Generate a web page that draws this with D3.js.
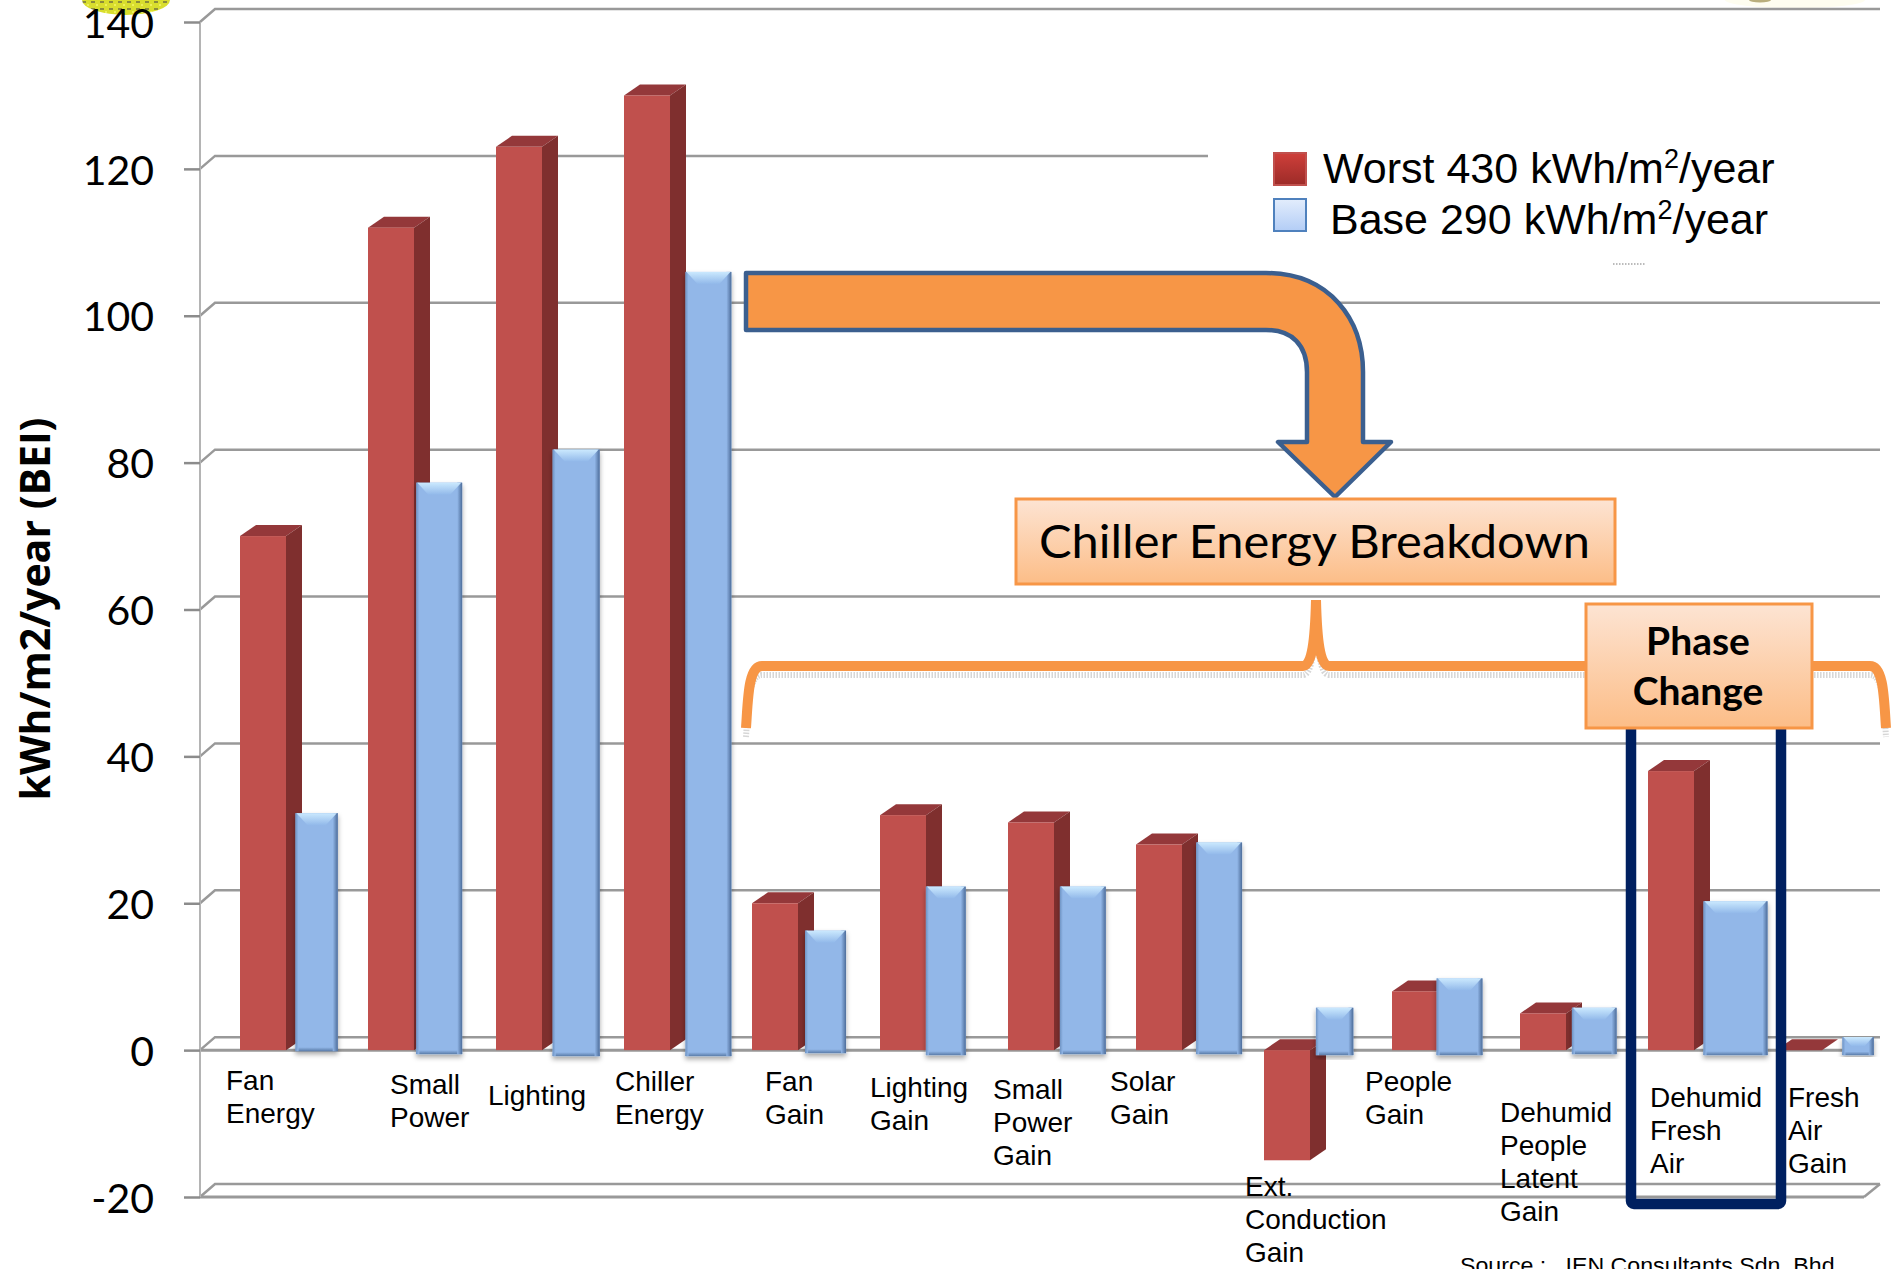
<!DOCTYPE html>
<html><head><meta charset="utf-8">
<script src="https://cdnjs.cloudflare.com/ajax/libs/d3/7.8.5/d3.min.js"></script>
<style>html,body{margin:0;padding:0;background:#fff;overflow:hidden}svg{display:block}</style>
</head><body><svg id="c" width="1892" height="1269"></svg>
<script>
// ---- data ----
const categories = ["Fan Energy","Small Power","Lighting","Chiller Energy","Fan Gain","Lighting Gain","Small Power Gain","Solar Gain","Ext. Conduction Gain","People Gain","Dehumid People Latent Gain","Dehumid Fresh Air","Fresh Air Gain"];
const worst = [70,112,123,130,20,32,31,28,-15,8,5,38,0];
const base  = [32,77,81.5,105.7,16,22,22,28,5.5,9.5,5.5,20,1.5];
const yTicks = [-20,0,20,40,60,80,100,120,140];
const seriesNames = ["Worst 430 kWh/m","Base 290 kWh/m"];
const yTitle = "kWh/m2/year (BEI)";
// ---- layout (separate from the data) ----
const labelLines = [["Fan","Energy"],["Small","Power"],["Lighting"],["Chiller","Energy"],["Fan","Gain"],["Lighting","Gain"],["Small","Power","Gain"],["Solar","Gain"],["Ext.","Conduction","Gain"],["People","Gain"],["Dehumid","People","Latent","Gain"],["Dehumid","Fresh","Air"],["Fresh","Air","Gain"]];
const labelX = [226,390,488,615,765,870,993,1110,1245,1365,1500,1650,1788];
const labelY = [1090,1094,1105,1091,1091,1097,1099,1091,1196,1091,1122,1107,1107];
const labelLead = 33;
const blueStart = [.754,.698,.763,.801,.735,.679,.726,.791,.726,.669,.726,.754,.839];
const blueWidth = [.330,.358,.367,.358,.320,.311,.358,.358,.292,.358,.349,.500,.245];
const blueDrop  = [1,4,6,6,3,5,4,4,5,5,4,5,5];

const svg = d3.select("#c");
const defs = svg.append("defs");
function grad(id,stops,h){const g=defs.append("linearGradient").attr("id",id).attr("x1",0).attr("y1",0).attr("x2",h?1:0).attr("y2",h?0:1);
  stops.forEach(s=>g.append("stop").attr("offset",s[0]).attr("stop-color",s[1]));}
grad("blueTop",[[0,"#cbe9fe"],[1,"#92b9ea"]]);
grad("edgeL",[[0,"#6f94c4"],[1,"#92b7e8"]],true);
grad("edgeR",[[0,"#92b7e8"],[1,"#4d6d9a"]],true);
grad("edgeB",[[0,"#92b7e8"],[1,"#5a7ca9"]]);
grad("boxFill",[[0,"#fde4d3"],[1,"#fcbd87"]]);
grad("swRed",[[0,"#cf3f3a"],[1,"#9c2b28"]]);
grad("swBlue",[[0,"#e3edfc"],[1,"#b3cdf6"]]);
const f=defs.append("filter").attr("id","shadow").attr("x","-20%").attr("y","-5%").attr("width","140%").attr("height","115%");
f.append("feDropShadow").attr("dx",0).attr("dy",3).attr("stdDeviation",2.5).attr("flood-color","#000").attr("flood-opacity",.35);
const pat=defs.append("pattern").attr("id","speck").attr("patternUnits","userSpaceOnUse").attr("width",9).attr("height",7);
pat.append("rect").attr("width",9).attr("height",7).attr("fill","#d9de2e");
pat.append("rect").attr("x",1).attr("y",1).attr("width",4).attr("height",2).attr("fill","#8c8c3a");
pat.append("rect").attr("x",6).attr("y",4).attr("width",2).attr("height",2).attr("fill","#eef05a");

const x = d3.scaleBand().domain(categories).range([199,1863]);
const y = d3.scaleLinear().domain([-20,140]).range([1197,22]);
const depthX=16, depthY=11, redInset=41/128, redW=46/128;
const gridColor="#999";

// remnants at the top edge, behind the text
svg.append("ellipse").attr("cx",126).attr("cy",0).attr("rx",44).attr("ry",15).attr("fill","url(#speck)");
svg.append("ellipse").attr("cx",1795).attr("cy",0).attr("rx",70).attr("ry",8).attr("fill","#fefdf0");
svg.append("ellipse").attr("cx",1760).attr("cy",0).attr("rx",11).attr("ry",2.5).attr("fill","#b9ae7c");

// chart walls and gridlines
const grid=svg.append("g");
yTicks.forEach(t=>{
  const yy=y(t);
  const endX = 1880;
  const backEnd = t===120 ? 1208 : endX;
  grid.append("path").attr("fill","none").attr("stroke",gridColor).attr("stroke-width",2.5)
    .attr("d",d3.line()([[200,yy],[215,yy-depthY-2],[backEnd,yy-depthY-2]]));
  if(t===0||t===-20) grid.append("line").attr("x1",200).attr("x2",t===0?1872:1864).attr("y1",yy).attr("y2",yy).attr("stroke",gridColor).attr("stroke-width",3);
});
grid.append("path").attr("fill","none").attr("stroke",gridColor).attr("stroke-width",2.5)
  .attr("d",d3.line()([[1864,y(-20)],[1880,y(-20)-depthY-2]]));
grid.append("line").attr("x1",200).attr("x2",200).attr("y1",y(140)).attr("y2",y(-20)).attr("stroke","#b4b4b4").attr("stroke-width",2);
svg.append("line").attr("x1",1613).attr("x2",1645).attr("y1",264).attr("y2",264).attr("stroke","#bbb").attr("stroke-width",2).attr("stroke-dasharray","1.5 1.5");

const axis=svg.append("g").attr("transform","translate(200,0)")
  .call(d3.axisLeft(y).tickValues(yTicks).tickSize(16).tickPadding(30).tickFormat(String));
axis.select(".domain").remove();
axis.selectAll("line").attr("stroke","#8c8c8c").attr("stroke-width",2.5);
axis.selectAll("text").attr("font-family","Lato").attr("font-size",41).attr("fill","#000").attr("dy","0.37em");

// bars
const bars=svg.append("g");
categories.forEach((c,i)=>{
  const left=x(c)+x.bandwidth()*redInset, w=x.bandwidth()*redW;
  const top=Math.min(y(worst[i]),y(0)), bot=Math.max(y(worst[i]),y(0));
  const g=bars.append("g");
  g.append("path").attr("fill","#94383a").attr("d",d3.line()([[left,top],[left+depthX,top-depthY],[left+w+depthX,top-depthY],[left+w,top]])+"Z");
  if(bot>top) g.append("path").attr("fill","#7f2f2e").attr("d",d3.line()([[left+w,top],[left+w+depthX,top-depthY],[left+w+depthX,bot-depthY],[left+w,bot]])+"Z");
  g.append("rect").attr("x",left).attr("y",top).attr("width",w).attr("height",bot-top).attr("fill","#c0504d");
  // blue bevelled bar
  const bl=x(c)+x.bandwidth()*blueStart[i], bw=x.bandwidth()*blueWidth[i];
  const bt=y(base[i])-2, bb=y(0)+blueDrop[i];
  const bg=bars.append("g").attr("filter","url(#shadow)");
  const h=bb-bt;
  bg.append("rect").attr("x",bl).attr("y",bt).attr("width",bw).attr("height",h).attr("fill","#92b7e8");
  const bev=Math.min(12,h*.5), eb=Math.min(4,h*.2);
  bg.append("rect").attr("x",bl).attr("y",bb-eb).attr("width",bw).attr("height",eb).attr("fill","url(#edgeB)");
  bg.append("rect").attr("x",bl).attr("y",bt).attr("width",3).attr("height",h).attr("fill","url(#edgeL)");
  bg.append("rect").attr("x",bl+bw-5).attr("y",bt).attr("width",5).attr("height",h).attr("fill","url(#edgeR)");
  bg.append("path").attr("fill","url(#blueTop)").attr("d",d3.line()([[bl+1,bt],[bl+bw-1,bt],[bl+bw-bev,bt+bev],[bl+bev,bt+bev]])+"Z");
});

// category labels
const labels=svg.append("g").attr("font-family","Liberation Sans").attr("font-size",28).attr("fill","#000");
categories.forEach((c,i)=>{
  labelLines[i].forEach((l,k)=>labels.append("text").attr("x",labelX[i]).attr("y",labelY[i]+k*labelLead).text(l));
});

// y axis title
svg.append("text").attr("transform","translate(50,609) rotate(-90)").attr("text-anchor","middle")
  .attr("font-family","Open Sans").attr("font-weight",700).attr("font-size",41).attr("fill","#000").text(yTitle);

// legend
const sw=[["url(#swRed)","#c0504d",153],["url(#swBlue)","#4f81bd",199]];
sw.forEach(s=>svg.append("rect").attr("x",1274).attr("y",s[2]).attr("width",32).attr("height",32).attr("fill",s[0]).attr("stroke",s[1]).attr("stroke-width",2));
[[1323,183,seriesNames[0]],[1330,234,seriesNames[1]]].forEach(d=>{
  const t=svg.append("text").attr("x",d[0]).attr("y",d[1]).attr("font-family","Liberation Sans").attr("font-size",43).attr("fill","#000");
  t.append("tspan").text(d[2]);
  t.append("tspan").attr("dy",-15).attr("font-size",27).text("2");
  t.append("tspan").attr("dy",15).text("/year");
});

// brace
const brace=d3.path();
brace.moveTo(746,728); brace.bezierCurveTo(748,700,748,666,762,666);
brace.lineTo(1303,666); brace.bezierCurveTo(1312,666,1315,640,1316,600);
brace.bezierCurveTo(1317,640,1320,666,1329,666); brace.lineTo(1870,666);
brace.bezierCurveTo(1884,666,1884,700,1886,728);
svg.append("path").attr("d",brace.toString()).attr("transform","translate(0,9)").attr("fill","none").attr("stroke","#bbb").attr("stroke-width",6).attr("stroke-dasharray","1.5 1.5").attr("opacity",.6);
svg.append("path").attr("d",brace.toString()).attr("fill","none").attr("stroke","#f79646").attr("stroke-width",10);

// navy frame
svg.append("rect").attr("x",1631).attr("y",700).attr("width",150).attr("height",504).attr("rx",3).attr("fill","none").attr("stroke","#002060").attr("stroke-width",10.5);

// bent arrow
const ar=d3.path();
ar.moveTo(746,273); ar.lineTo(1266,273); ar.bezierCurveTo(1330,273,1363,320,1363,372);
ar.lineTo(1363,442); ar.lineTo(1391,442); ar.lineTo(1335,497); ar.lineTo(1278,442); ar.lineTo(1307,442);
ar.lineTo(1307,372); ar.bezierCurveTo(1307,345,1292,330,1266,330); ar.lineTo(746,330); ar.closePath();
svg.append("path").attr("d",ar.toString()).attr("fill","#f79646").attr("stroke","#3b5f8f").attr("stroke-width",4.5).attr("stroke-linejoin","round");

// call-out boxes
[[1016,499,599,85],[1586,604,226,124]].forEach(b=>svg.append("rect").attr("x",b[0]).attr("y",b[1]).attr("width",b[2]).attr("height",b[3]).attr("fill","url(#boxFill)").attr("stroke","#f79646").attr("stroke-width",3));
svg.append("text").attr("x",1039).attr("y",558).attr("font-family","Lato").attr("font-size",47).attr("textLength",551).attr("lengthAdjust","spacingAndGlyphs").text("Chiller Energy Breakdown");
[["Phase",655],["Change",705]].forEach(d=>svg.append("text").attr("x",1698).attr("y",d[1]).attr("text-anchor","middle").attr("font-family","Lato").attr("font-weight",700).attr("font-size",39).text(d[0]));

// source
svg.append("text").attr("x",1460).attr("y",1273).attr("font-family","Liberation Sans").attr("font-size",22).attr("textLength",381).attr("lengthAdjust","spacingAndGlyphs").attr("style","white-space:pre").text("Source :   IEN Consultants Sdn. Bhd.");
</script></body></html>
